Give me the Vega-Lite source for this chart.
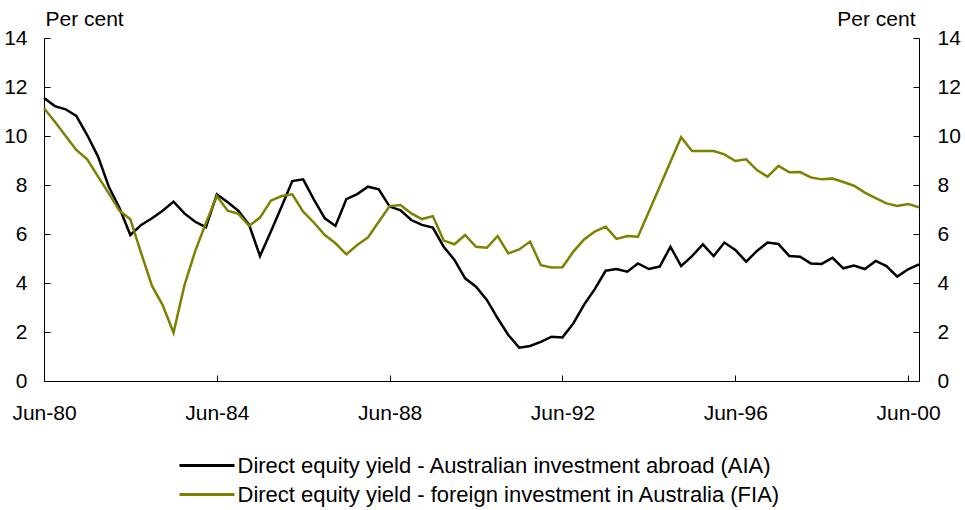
{
  "$schema": "https://vega.github.io/schema/vega-lite/v6.json",
  "width": 875,
  "height": 343,
  "autosize": "none",
  "padding": {"left": 44, "top": 38, "right": 46, "bottom": 129},
  "config": {
    "view": {"stroke": null},
    "font": "Liberation Sans",
    "axis": {
      "grid": false,
      "domainColor": "#000000",
      "domainWidth": 1,
      "tickColor": "#000000",
      "tickWidth": 1,
      "labelColor": "#000000",
      "labelFont": "Liberation Sans",
      "labelFontSize": 21,
      "titleFont": "Liberation Sans",
      "titleFontSize": 21,
      "titleFontWeight": "normal",
      "titleColor": "#000000"
    }
  },
  "data": {
    "values": [
      {"d": "1980-06-01", "s": "AIA", "v": 11.55}, {"d": "1980-09-01", "s": "AIA", "v": 11.22}, {"d": "1980-12-01", "s": "AIA", "v": 11.09}, {"d": "1981-03-01", "s": "AIA", "v": 10.82},
      {"d": "1981-06-01", "s": "AIA", "v": 10.04}, {"d": "1981-09-01", "s": "AIA", "v": 9.16}, {"d": "1981-12-01", "s": "AIA", "v": 7.93}, {"d": "1982-03-01", "s": "AIA", "v": 7.06},
      {"d": "1982-06-01", "s": "AIA", "v": 5.96}, {"d": "1982-09-01", "s": "AIA", "v": 6.37}, {"d": "1982-12-01", "s": "AIA", "v": 6.64}, {"d": "1983-03-01", "s": "AIA", "v": 6.95},
      {"d": "1983-06-01", "s": "AIA", "v": 7.32}, {"d": "1983-09-01", "s": "AIA", "v": 6.84}, {"d": "1983-12-01", "s": "AIA", "v": 6.5}, {"d": "1984-03-01", "s": "AIA", "v": 6.28},
      {"d": "1984-06-01", "s": "AIA", "v": 7.62}, {"d": "1984-09-01", "s": "AIA", "v": 7.3}, {"d": "1984-12-01", "s": "AIA", "v": 6.94}, {"d": "1985-03-01", "s": "AIA", "v": 6.37},
      {"d": "1985-06-01", "s": "AIA", "v": 5.1}, {"d": "1985-09-01", "s": "AIA", "v": 6.1}, {"d": "1985-12-01", "s": "AIA", "v": 7.12}, {"d": "1986-03-01", "s": "AIA", "v": 8.16},
      {"d": "1986-06-01", "s": "AIA", "v": 8.23}, {"d": "1986-09-01", "s": "AIA", "v": 7.39}, {"d": "1986-12-01", "s": "AIA", "v": 6.64}, {"d": "1987-03-01", "s": "AIA", "v": 6.33},
      {"d": "1987-06-01", "s": "AIA", "v": 7.42}, {"d": "1987-09-01", "s": "AIA", "v": 7.63}, {"d": "1987-12-01", "s": "AIA", "v": 7.93}, {"d": "1988-03-01", "s": "AIA", "v": 7.82},
      {"d": "1988-06-01", "s": "AIA", "v": 7.12}, {"d": "1988-09-01", "s": "AIA", "v": 6.97}, {"d": "1988-12-01", "s": "AIA", "v": 6.57}, {"d": "1989-03-01", "s": "AIA", "v": 6.37},
      {"d": "1989-06-01", "s": "AIA", "v": 6.26}, {"d": "1989-09-01", "s": "AIA", "v": 5.48}, {"d": "1989-12-01", "s": "AIA", "v": 4.94}, {"d": "1990-03-01", "s": "AIA", "v": 4.19},
      {"d": "1990-06-01", "s": "AIA", "v": 3.85}, {"d": "1990-09-01", "s": "AIA", "v": 3.31}, {"d": "1990-12-01", "s": "AIA", "v": 2.56}, {"d": "1991-03-01", "s": "AIA", "v": 1.88},
      {"d": "1991-06-01", "s": "AIA", "v": 1.36}, {"d": "1991-09-01", "s": "AIA", "v": 1.43}, {"d": "1991-12-01", "s": "AIA", "v": 1.6}, {"d": "1992-03-01", "s": "AIA", "v": 1.81},
      {"d": "1992-06-01", "s": "AIA", "v": 1.78}, {"d": "1992-09-01", "s": "AIA", "v": 2.35}, {"d": "1992-12-01", "s": "AIA", "v": 3.12}, {"d": "1993-03-01", "s": "AIA", "v": 3.75},
      {"d": "1993-06-01", "s": "AIA", "v": 4.5}, {"d": "1993-09-01", "s": "AIA", "v": 4.57}, {"d": "1993-12-01", "s": "AIA", "v": 4.46}, {"d": "1994-03-01", "s": "AIA", "v": 4.8},
      {"d": "1994-06-01", "s": "AIA", "v": 4.57}, {"d": "1994-09-01", "s": "AIA", "v": 4.67}, {"d": "1994-12-01", "s": "AIA", "v": 5.48}, {"d": "1995-03-01", "s": "AIA", "v": 4.69},
      {"d": "1995-06-01", "s": "AIA", "v": 5.1}, {"d": "1995-09-01", "s": "AIA", "v": 5.58}, {"d": "1995-12-01", "s": "AIA", "v": 5.1}, {"d": "1996-03-01", "s": "AIA", "v": 5.65},
      {"d": "1996-06-01", "s": "AIA", "v": 5.35}, {"d": "1996-09-01", "s": "AIA", "v": 4.87}, {"d": "1996-12-01", "s": "AIA", "v": 5.31}, {"d": "1997-03-01", "s": "AIA", "v": 5.65},
      {"d": "1997-06-01", "s": "AIA", "v": 5.59}, {"d": "1997-09-01", "s": "AIA", "v": 5.1}, {"d": "1997-12-01", "s": "AIA", "v": 5.07}, {"d": "1998-03-01", "s": "AIA", "v": 4.8},
      {"d": "1998-06-01", "s": "AIA", "v": 4.78}, {"d": "1998-09-01", "s": "AIA", "v": 5.03}, {"d": "1998-12-01", "s": "AIA", "v": 4.6}, {"d": "1999-03-01", "s": "AIA", "v": 4.71},
      {"d": "1999-06-01", "s": "AIA", "v": 4.57}, {"d": "1999-09-01", "s": "AIA", "v": 4.9}, {"d": "1999-12-01", "s": "AIA", "v": 4.69}, {"d": "2000-03-01", "s": "AIA", "v": 4.26},
      {"d": "2000-06-01", "s": "AIA", "v": 4.56}, {"d": "2000-09-01", "s": "AIA", "v": 4.76},
      {"d": "1980-06-01", "s": "FIA", "v": 11.13}, {"d": "1980-09-01", "s": "FIA", "v": 10.58}, {"d": "1980-12-01", "s": "FIA", "v": 10.0}, {"d": "1981-03-01", "s": "FIA", "v": 9.43},
      {"d": "1981-06-01", "s": "FIA", "v": 9.05}, {"d": "1981-09-01", "s": "FIA", "v": 8.34}, {"d": "1981-12-01", "s": "FIA", "v": 7.66}, {"d": "1982-03-01", "s": "FIA", "v": 6.95},
      {"d": "1982-06-01", "s": "FIA", "v": 6.6}, {"d": "1982-09-01", "s": "FIA", "v": 5.21}, {"d": "1982-12-01", "s": "FIA", "v": 3.88}, {"d": "1983-03-01", "s": "FIA", "v": 3.1},
      {"d": "1983-06-01", "s": "FIA", "v": 1.97}, {"d": "1983-09-01", "s": "FIA", "v": 3.9}, {"d": "1983-12-01", "s": "FIA", "v": 5.3}, {"d": "1984-03-01", "s": "FIA", "v": 6.45},
      {"d": "1984-06-01", "s": "FIA", "v": 7.55}, {"d": "1984-09-01", "s": "FIA", "v": 6.95}, {"d": "1984-12-01", "s": "FIA", "v": 6.82}, {"d": "1985-03-01", "s": "FIA", "v": 6.33},
      {"d": "1985-06-01", "s": "FIA", "v": 6.67}, {"d": "1985-09-01", "s": "FIA", "v": 7.36}, {"d": "1985-12-01", "s": "FIA", "v": 7.55}, {"d": "1986-03-01", "s": "FIA", "v": 7.62},
      {"d": "1986-06-01", "s": "FIA", "v": 6.91}, {"d": "1986-09-01", "s": "FIA", "v": 6.46}, {"d": "1986-12-01", "s": "FIA", "v": 5.96}, {"d": "1987-03-01", "s": "FIA", "v": 5.62},
      {"d": "1987-06-01", "s": "FIA", "v": 5.17}, {"d": "1987-09-01", "s": "FIA", "v": 5.55}, {"d": "1987-12-01", "s": "FIA", "v": 5.86}, {"d": "1988-03-01", "s": "FIA", "v": 6.5},
      {"d": "1988-06-01", "s": "FIA", "v": 7.14}, {"d": "1988-09-01", "s": "FIA", "v": 7.18}, {"d": "1988-12-01", "s": "FIA", "v": 6.84}, {"d": "1989-03-01", "s": "FIA", "v": 6.61},
      {"d": "1989-06-01", "s": "FIA", "v": 6.73}, {"d": "1989-09-01", "s": "FIA", "v": 5.73}, {"d": "1989-12-01", "s": "FIA", "v": 5.58}, {"d": "1990-03-01", "s": "FIA", "v": 5.96},
      {"d": "1990-06-01", "s": "FIA", "v": 5.48}, {"d": "1990-09-01", "s": "FIA", "v": 5.44}, {"d": "1990-12-01", "s": "FIA", "v": 5.92}, {"d": "1991-03-01", "s": "FIA", "v": 5.21},
      {"d": "1991-06-01", "s": "FIA", "v": 5.37}, {"d": "1991-09-01", "s": "FIA", "v": 5.69}, {"d": "1991-12-01", "s": "FIA", "v": 4.73}, {"d": "1992-03-01", "s": "FIA", "v": 4.63},
      {"d": "1992-06-01", "s": "FIA", "v": 4.64}, {"d": "1992-09-01", "s": "FIA", "v": 5.28}, {"d": "1992-12-01", "s": "FIA", "v": 5.78}, {"d": "1993-03-01", "s": "FIA", "v": 6.1},
      {"d": "1993-06-01", "s": "FIA", "v": 6.3}, {"d": "1993-09-01", "s": "FIA", "v": 5.8}, {"d": "1993-12-01", "s": "FIA", "v": 5.92}, {"d": "1994-03-01", "s": "FIA", "v": 5.89},
      {"d": "1994-06-01", "s": "FIA", "v": 6.91}, {"d": "1994-09-01", "s": "FIA", "v": 7.93}, {"d": "1994-12-01", "s": "FIA", "v": 8.95}, {"d": "1995-03-01", "s": "FIA", "v": 9.95},
      {"d": "1995-06-01", "s": "FIA", "v": 9.39}, {"d": "1995-09-01", "s": "FIA", "v": 9.39}, {"d": "1995-12-01", "s": "FIA", "v": 9.39}, {"d": "1996-03-01", "s": "FIA", "v": 9.25},
      {"d": "1996-06-01", "s": "FIA", "v": 8.98}, {"d": "1996-09-01", "s": "FIA", "v": 9.05}, {"d": "1996-12-01", "s": "FIA", "v": 8.61}, {"d": "1997-03-01", "s": "FIA", "v": 8.34},
      {"d": "1997-06-01", "s": "FIA", "v": 8.78}, {"d": "1997-09-01", "s": "FIA", "v": 8.52}, {"d": "1997-12-01", "s": "FIA", "v": 8.53}, {"d": "1998-03-01", "s": "FIA", "v": 8.31},
      {"d": "1998-06-01", "s": "FIA", "v": 8.23}, {"d": "1998-09-01", "s": "FIA", "v": 8.26}, {"d": "1998-12-01", "s": "FIA", "v": 8.12}, {"d": "1999-03-01", "s": "FIA", "v": 7.97},
      {"d": "1999-06-01", "s": "FIA", "v": 7.69}, {"d": "1999-09-01", "s": "FIA", "v": 7.46}, {"d": "1999-12-01", "s": "FIA", "v": 7.25}, {"d": "2000-03-01", "s": "FIA", "v": 7.14},
      {"d": "2000-06-01", "s": "FIA", "v": 7.22}, {"d": "2000-09-01", "s": "FIA", "v": 7.09}
    ]
  },
  "encoding": {
    "x": {
      "field": "d",
      "type": "temporal",
      "scale": {
        "type": "utc",
        "domain": [
          {"year": 1980, "month": 6, "date": 1, "utc": true},
          {"year": 2000, "month": 9, "date": 1, "utc": true}
        ]
      },
      "axis": {
        "title": null,
        "format": "%b-%y",
        "values": [
          {"year": 1980, "month": 6, "date": 1, "utc": true},
          {"year": 1984, "month": 6, "date": 1, "utc": true},
          {"year": 1988, "month": 6, "date": 1, "utc": true},
          {"year": 1992, "month": 6, "date": 1, "utc": true},
          {"year": 1996, "month": 6, "date": 1, "utc": true},
          {"year": 2000, "month": 6, "date": 1, "utc": true}
        ],
        "tickSize": -6,
        "labelPadding": 27,
        "labelAngle": 0,
        "labelFlush": false,
        "labelOverlap": false
      }
    }
  },
  "layer": [
    {
      "mark": {"type": "line", "strokeWidth": 2.5},
      "encoding": {
        "y": {
          "field": "v",
          "type": "quantitative",
          "scale": {"domain": [0, 14], "nice": false},
          "axis": {
            "orient": "left",
            "values": [0, 2, 4, 6, 8, 10, 12, 14],
            "tickSize": -6,
            "labelPadding": 23,
            "title": "Per cent",
            "titleAngle": 0,
            "titleX": 1,
            "titleY": -13,
            "titleAlign": "left",
            "titleBaseline": "alphabetic"
          }
        },
        "color": {
          "field": "s",
          "type": "nominal",
          "scale": {"domain": ["AIA", "FIA"], "range": ["#000000", "#808000"]},
          "legend": {
            "orient": "none",
            "legendX": 134,
            "legendY": 416,
            "direction": "vertical",
            "title": null,
            "padding": 0,
            "rowPadding": 6,
            "symbolType": "M-2.75,0H2.75",
            "symbolSize": 400,
            "symbolStrokeWidth": 3,
            "symbolOffset": 17.5,
            "labelOffset": 19,
            "labelFont": "Liberation Sans",
            "labelFontSize": 22,
            "labelColor": "#000000",
            "labelLimit": 900,
            "labelExpr": "datum.label == 'AIA' ? 'Direct equity yield - Australian investment abroad (AIA)' : 'Direct equity yield - foreign investment in Australia (FIA)'"
          }
        }
      }
    },
    {
      "mark": {"type": "line", "opacity": 0},
      "encoding": {
        "detail": {"field": "s", "type": "nominal"},
        "y": {
          "field": "v",
          "type": "quantitative",
          "scale": {"domain": [0, 14], "nice": false},
          "axis": {
            "orient": "right",
            "values": [0, 2, 4, 6, 8, 10, 12, 14],
            "tickSize": -6,
            "labelPadding": 24,
            "title": "Per cent",
            "titleAngle": 0,
            "titleX": -4,
            "titleY": -13,
            "titleAlign": "right",
            "titleBaseline": "alphabetic"
          }
        }
      }
    }
  ],
  "resolve": {"scale": {"y": "independent"}}
}
